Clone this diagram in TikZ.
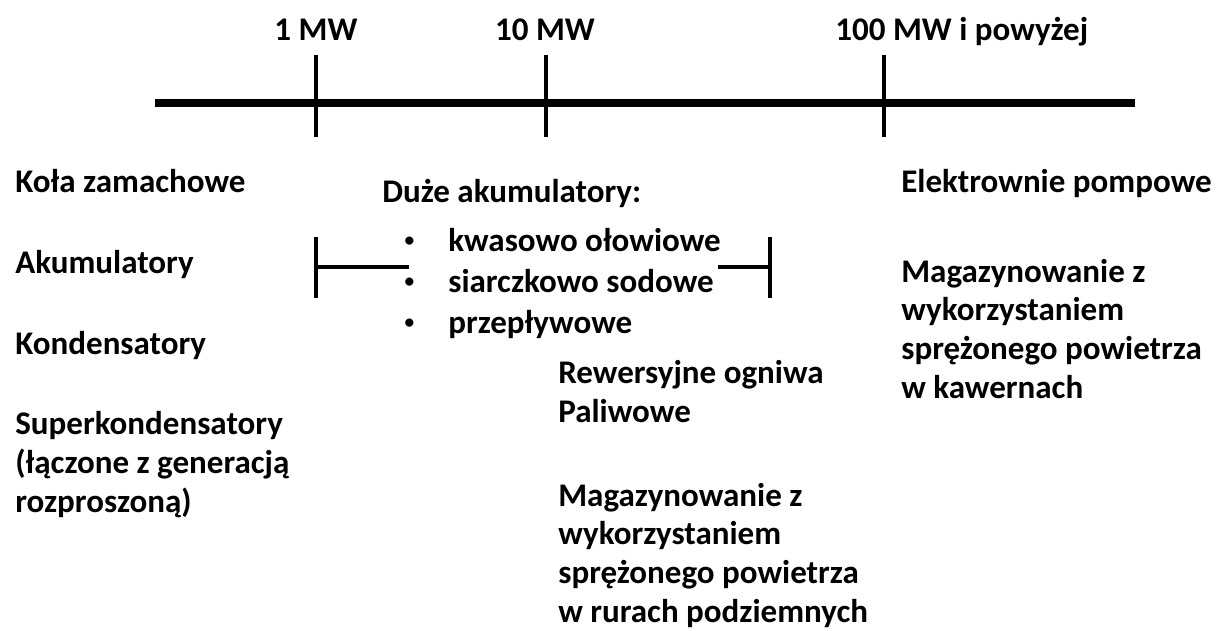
\documentclass[tikz,border=0pt]{standalone}
\usepackage{fontspec}
\setmainfont{Carlito}
\usetikzlibrary{positioning}

\begin{document}
\begin{tikzpicture}[x=0.02cm,y=-0.02cm,
    txt/.style={anchor=base west, inner sep=0pt, align=left,
        font=\bfseries\fontsize{18.8}{22}\selectfont},
    tick/.style={line width=1.8pt},
    axis/.style={line width=4.6pt}]

    % Keep the frame of the picture
    \useasboundingbox (0,0) rectangle (1218,630);

    % Define the heights of the scale
    \def\ya{55}   % top of ticks
    \def\yb{137}  % bottom of ticks
    \def\yl{103}  % height of the axis
    \def\yt{40}   % baseline of the tick labels
    \def\bul{\llap{{\fontsize{11}{11}\selectfont\raisebox{0.1cm}{•}}\kern 0.68cm}} % bullet in front of items

    % Calculate the coordinates of the points
    \coordinate (A0) at (155,\yl);
    \coordinate (A1) at (1135,\yl);
    \coordinate (T1a) at (316,\ya);
    \coordinate (T1b) at (316,\yb);
    \coordinate (T2a) at (546,\ya);
    \coordinate (T2b) at (546,\yb);
    \coordinate (T3a) at (884,\ya);
    \coordinate (T3b) at (884,\yb);

    % Draw the axis and the ticks
    \draw[axis] (A0) -- (A1);
    \draw[tick] (T1a) -- (T1b);
    \draw[tick] (T2a) -- (T2b);
    \draw[tick] (T3a) -- (T3b);

    % Draw tick labels (multi-line nodes sit on their last line)
    \node[txt, anchor=base] (mw1) at (316,\yt) {1 MW};
    \node[txt, anchor=base] (mw10) at (545,\yt) {10 MW};
    \node[txt] (mw100) at (835,\yt) {100 MW i powyżej};

    % Draw the small storages
    \node[txt] (kola) at (15,192) {Koła zamachowe};
    \node[txt] (akum) at (15,273) {Akumulatory};
    \node[txt] (kond) at (15,354) {Kondensatory};
    \node[txt] (super) at (15,512) {Superkondensatory\\(łączone z generacją\\rozproszoną)};

    % Draw the large batteries
    \node[txt] (duze) at (382,202) {Duże akumulatory:};
    \node[txt, font=\bfseries\fontsize{18.8}{23.3}\selectfont] (lista) at (448,333)
        {\bul kwasowo ołowiowe\\\bul siarczkowo sodowe\\\bul przepływowe};

    % Draw the range bracket
    \coordinate (B0a) at (316,237);
    \coordinate (B0b) at (316,298);
    \coordinate (B0c) at (316,267);
    \coordinate (B0d) at (409,267);
    \coordinate (B1a) at (770,237);
    \coordinate (B1b) at (770,298);
    \coordinate (B1c) at (770,267);
    \coordinate (B1d) at (718,267);
    \draw[tick] (B0a) -- (B0b);
    \draw[tick] (B0c) -- (B0d);
    \draw[tick] (B1a) -- (B1b);
    \draw[tick] (B1c) -- (B1d);

    % Draw the middle storages
    \node[txt] (ogniwa) at (558,422) {Rewersyjne ogniwa\\Paliwowe};
    \node[txt] (rury) at (558,622) {Magazynowanie z\\wykorzystaniem\\sprężonego powietrza\\w rurach podziemnych};

    % Draw the large storages
    \node[txt] (pomp) at (901,192) {Elektrownie pompowe};
    \node[txt] (kawerny) at (901,398) {Magazynowanie z\\wykorzystaniem\\sprężonego powietrza\\w kawernach};
\end{tikzpicture}
\end{document}
